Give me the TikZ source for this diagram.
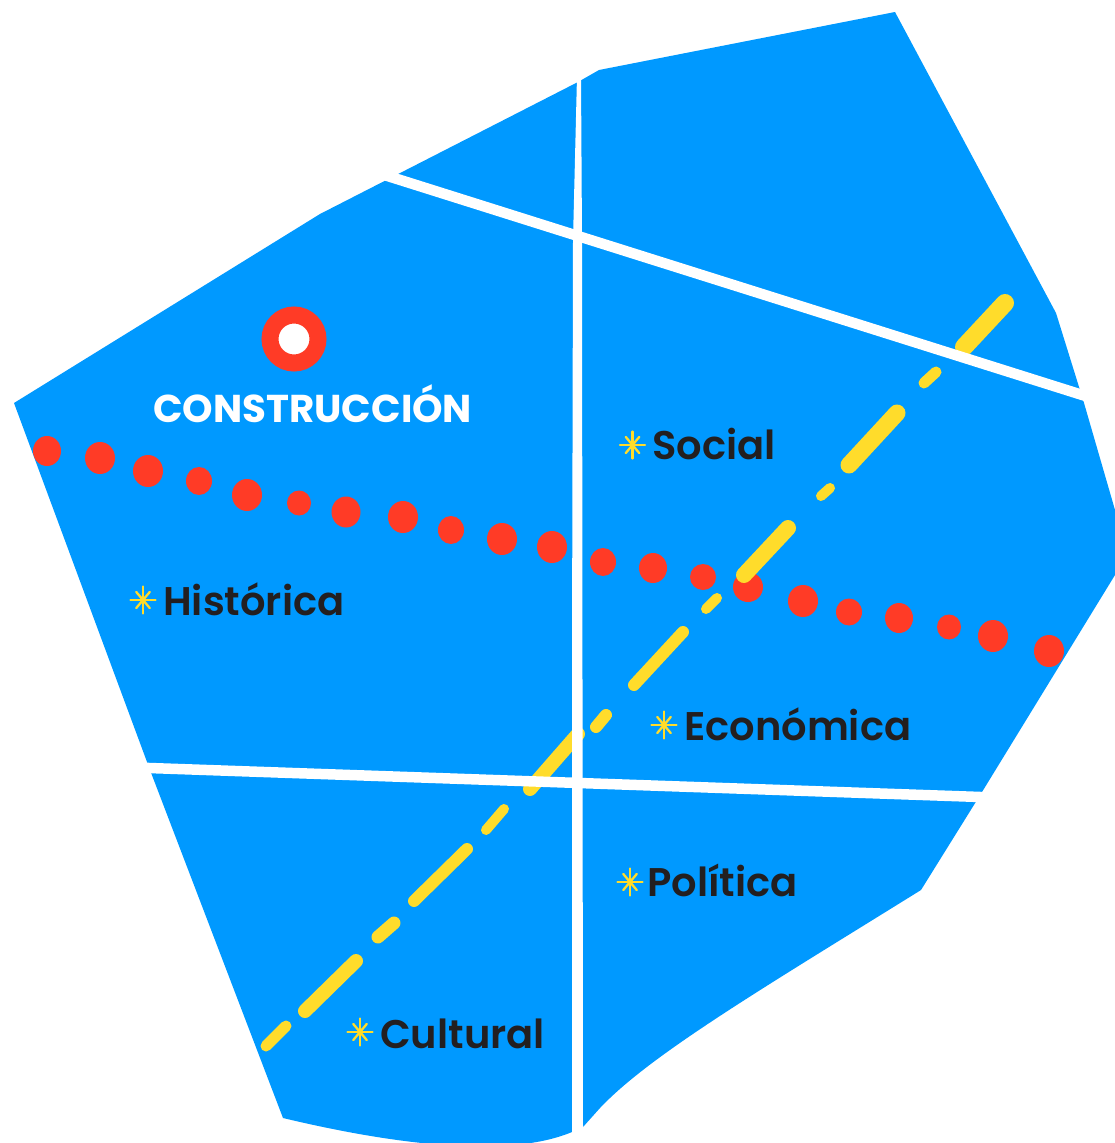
\documentclass[tikz,border=0pt]{standalone}
\usepackage{fontspec}
\setmainfont{Poppins}[BoldFont={Poppins SemiBold}]
\newfontfamily\titlefont{Poppins}
\definecolor{mapblue}{HTML}{0099FF}
\definecolor{linered}{HTML}{FF3B26}
\definecolor{lineyellow}{HTML}{FFDC2B}
\definecolor{labeldark}{HTML}{231F20}
\tikzset{
  spark/.pic={
    \foreach \a/\r in {0/12.5,180/12.5,90/13.5,270/13.5,50/10.5,130/10.5,230/10.5,310/10.5}
      \draw[lineyellow,line width=2.3pt,line cap=round] (0,0) -- +(\a:\r);
  },
  layer/.style={font=\bfseries\fontsize{40}{44}\selectfont,text=labeldark,anchor=base west,inner sep=0pt},
  street/.style={white,line width=10.5pt}
}
\begin{document}
\begin{tikzpicture}[x=1pt,y=-1pt]
\useasboundingbox (0,0) rectangle (1115,1143);
% city block
\fill[mapblue] (14,403) -- (320,214) -- (578,82) -- (599,70) -- (895,12) -- (1056,313)
  -- (1084,403) -- (1115,510) -- (1115,575) -- (982,792) -- (921,890)
  .. controls (760,990) and (650,1055) .. (600,1108) -- (583,1127) -- (572,1132)
  .. controls (510,1158) and (400,1146) .. (283,1118) -- (150,770) -- cycle;
% red route
\foreach \x/\y/\rx/\ry in {47/451/14/15,100/458/15/16,148/471/15/16,199/481/13/14,247/495/15/16,
  299/503/12/12.5,346/512/14.5/15.5,403/517/15/16,451/530/13/14,502/539/15/16,552/547/15/16,
  603/562/13/14,653/568/14/15,703/577/13/13,748/587/15/15,803/601/15/16,849/612/13/13.5,
  899/618/14/15,949/627/12/12.5,993/636/15/16,1049/651/15/16}
  \fill[linered] (\x,\y) ellipse [x radius=\rx,y radius=\ry];
% yellow route
\foreach \xa/\ya/\xb/\yb/\w in {1005/303/964/347/18,936/372/924/383/11,897/413/849/465/17,
  830/488/821/496/10,788/528/744/575/16,717/598/706/609/10,683/632/634/685/12,
  606/715/596/727/12,578/734/530/789/14,504/809/486/830/10,467/849/414/901/12,
  394/923/378/937/13,356/961/305/1011/14,286/1026/266/1046/11}
  \draw[lineyellow,line cap=round,line width=\w pt] (\xa,\ya) -- (\xb,\yb);
% streets
\draw[street] (386,175.5) -- (1095,399);
\draw[street] (135,767.5) -- (995,797.5);
\fill[white] (577,76) -- (581,76) -- (582,240) -- (583,1132) -- (572,1140) -- (572,660) -- (573,240) -- cycle;
% start marker
\node[circle,draw=linered,fill=white,line width=17pt,minimum size=48pt,inner sep=0pt] (start) at (294,339) {};
\node[font=\titlefont\bfseries\fontsize{38.8}{42}\selectfont,text=white,anchor=base west,inner sep=0pt] (construccion) at (153,422) {CONSTRUCCIÓN};
% layers
\node[layer] (social) at (652,459) {Social};
\node[layer] (historica) at (163,615) {Histórica};
\node[layer] (economica) at (684,740) {Económica};
\node[layer] (politica) at (647,896) {Política};
\node[layer] (cultural) at (380,1048) {Cultural};
\pic at (632.5,445) {spark};
\pic at (143,600) {spark};
\pic at (664,725) {spark};
\pic at (630,882) {spark};
\pic at (360,1032) {spark};
\end{tikzpicture}
\end{document}
